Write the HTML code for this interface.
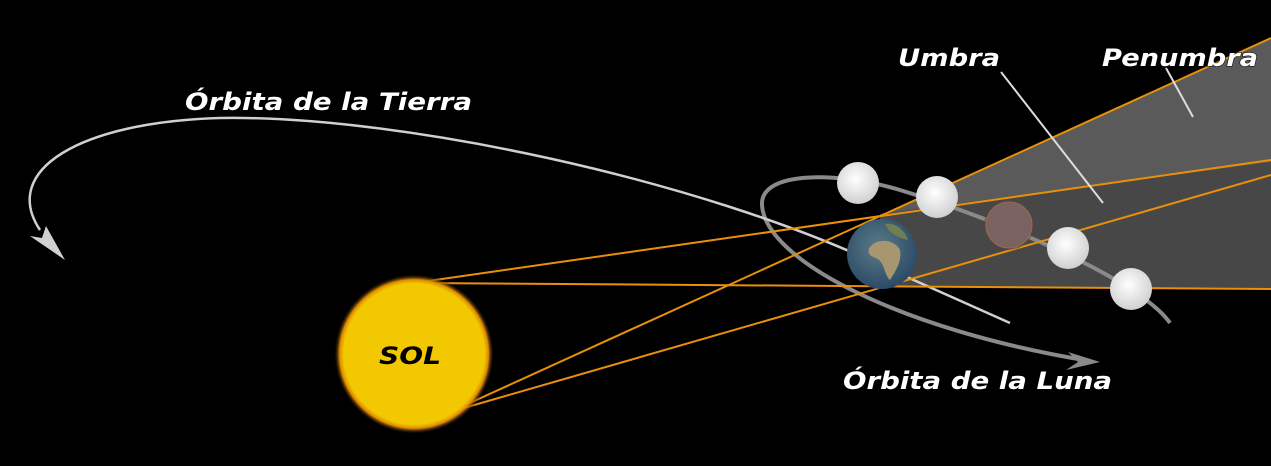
<!DOCTYPE html>
<html><head><style>
html,body{margin:0;padding:0;background:#000;width:1271px;height:466px;overflow:hidden}
svg text{font-family:"DejaVu Sans","Liberation Sans",sans-serif;font-weight:bold;font-style:italic}
</style></head><body>
<svg width="1271" height="466" viewBox="0 0 1271 466">
<defs>
<radialGradient id="sg" cx="50%" cy="50%" r="50%">
<stop offset="0.88" stop-color="#f2c800"/><stop offset="0.93" stop-color="#e08a00"/><stop offset="1" stop-color="#000" stop-opacity="0"/>
</radialGradient>
<radialGradient id="mg" cx="45%" cy="40%" r="60%"><stop offset="0" stop-color="#fff"/><stop offset="1" stop-color="#d0d0d0"/></radialGradient>
<radialGradient id="eg" cx="45%" cy="40%" r="60%"><stop offset="0" stop-color="#5b7c8a"/><stop offset="1" stop-color="#2c4a66"/></radialGradient>
</defs>
<polygon points="880,216 1271,38 1271,288 880,286" fill="#5a5a5a"/>
<polygon points="880,214 1271,162 1271,288 880,286" fill="#474747"/>
<path d="M1170,323 C1140,280 1000,220 900,190 C840,172 760,170 762,205 C765,260 900,330 1090,361" fill="none" stroke="#8a8a8a" stroke-width="4"/>
<polygon points="1100,362 1068,352 1078,362 1066,370" fill="#8a8a8a"/>
<path d="M1010,323 L880,265 C700,180 400,115 220,118 C80,122 0,170 40,230" fill="none" stroke="#cfcfcf" stroke-width="2.5"/>
<polygon points="65,260 30,236 42,238 46,226" fill="#d0d0d0"/>
<g stroke="#e8900a" stroke-width="2" fill="none">
<line x1="414" y1="283" x2="1271" y2="289"/>
<line x1="414" y1="283" x2="1271" y2="160"/>
<line x1="450" y1="412" x2="1271" y2="38"/>
<line x1="450" y1="412" x2="1271" y2="175"/>
</g>
<line x1="1001" y1="72" x2="1103" y2="203" stroke="#ddd" stroke-width="2"/>
<line x1="1166" y1="68" x2="1193" y2="117" stroke="#ddd" stroke-width="2"/>
<circle cx="414" cy="354" r="80" fill="url(#sg)"/>
<text x="410" y="364" font-size="24" fill="#000" text-anchor="middle" textLength="62" lengthAdjust="spacingAndGlyphs">SOL</text>
<circle cx="882" cy="254" r="35" fill="url(#eg)"/>
<path d="M872,245 C880,238 895,240 900,250 C902,262 895,272 890,280 C884,275 885,262 876,258 C868,256 866,250 872,245Z" fill="#a89670"/>
<path d="M885,224 C895,222 905,230 908,240 C900,238 890,235 885,224Z" fill="#6f7f50"/>
<circle cx="858" cy="183" r="21" fill="url(#mg)"/>
<circle cx="937" cy="197" r="21" fill="url(#mg)"/>
<circle cx="1009" cy="225" r="25" fill="#5a4340" opacity="0.5"/>
<circle cx="1009" cy="225" r="23" fill="#7a6260" stroke="#9a6a50" stroke-width="1"/>
<circle cx="1068" cy="248" r="21" fill="url(#mg)"/>
<circle cx="1131" cy="289" r="21" fill="url(#mg)"/>
<g font-size="24" fill="#fff" stroke="#000" stroke-width="1" paint-order="stroke" lengthAdjust="spacingAndGlyphs">
<text x="185" y="110" textLength="287" lengthAdjust="spacingAndGlyphs">Órbita de la Tierra</text>
<text x="898" y="66" textLength="102" lengthAdjust="spacingAndGlyphs">Umbra</text>
<text x="1102" y="66" textLength="156" lengthAdjust="spacingAndGlyphs">Penumbra</text>
<text x="843" y="389" textLength="269" lengthAdjust="spacingAndGlyphs">Órbita de la Luna</text>
</g>
</svg>
</body></html>
